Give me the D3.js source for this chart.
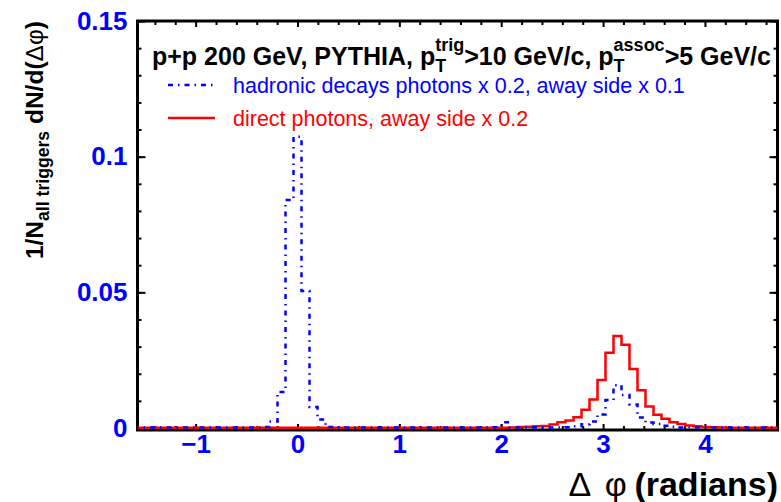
<!DOCTYPE html>
<html>
<head>
<meta charset="utf-8">
<script src="https://cdn.jsdelivr.net/npm/d3@7"></script>
<style>
  html, body { margin: 0; padding: 0; background: #fff; }
  svg { display: block; }
  text { font-family: "Liberation Sans", Arial, Helvetica, sans-serif; }
</style>
</head>
<body>
<svg id="chart" width="781" height="502"></svg>
<script>
// PYTHIA delta-phi correlations, 80 bins over 2pi, first bin centred at -pi/2
const binWidth = 2 * Math.PI / 80;

// hadronic decay photons (x0.2, away side x0.1)
const hadronicDecayPhotons = [
  0.0002, 0.0002, 0.0002, 0.0002, 0.0002, 0.0002, 0.0002, 0.0002, 0.0002, 0.0002,
  0.0002, 0.0002, 0.0002, 0.0002, 0.0002, 0.0002, 0.0004, 0.0024, 0.0133, 0.0840,
  0.1073, 0.0505, 0.0077, 0.0031, 0.0004, 0.0002, 0.0002, 0.0002, 0.0002, 0.0002,
  0.0002, 0.0002, 0.0002, 0.0002, 0.0002, 0.0002, 0.0002, 0.0002, 0.0002, 0.0002,
  0.0002, 0.0002, 0.0002, 0.0002, 0.0002, 0.0003, 0.0021, 0.0002, 0.0002, 0.0002,
  0.0002, 0.0002, 0.0002, 0.0002, 0.0003, 0.0006, 0.0014, 0.0024, 0.0050, 0.0103,
  0.0158, 0.0122, 0.0087, 0.0039, 0.0020, 0.0015, 0.0008, 0.0005, 0.0002, 0.0002,
  0.0002, 0.0002, 0.0002, 0.0002, 0.0002, 0.0002, 0.0002, 0.0002, 0.0002, 0.0002,
  0.0002
];

// direct photons (away side x0.2)
const directPhotons = [
  0.0001, 0.0001, 0.0001, 0.0001, 0.0001, 0.0001, 0.0001, 0.0001, 0.0001, 0.0001,
  0.0001, 0.0001, 0.0001, 0.0001, 0.0001, 0.0001, 0.0001, 0.0001, 0.0001, 0.0001,
  0.0001, 0.0001, 0.0001, 0.0001, 0.0001, 0.0001, 0.0001, 0.0001, 0.0001, 0.0001,
  0.0001, 0.0001, 0.0001, 0.0001, 0.0001, 0.0001, 0.0001, 0.0001, 0.0001, 0.0001,
  0.0001, 0.0001, 0.0001, 0.0001, 0.0001, 0.0001, 0.0001, 0.0002, 0.0004, 0.0005,
  0.0006, 0.0007, 0.0013, 0.0021, 0.0028, 0.0040, 0.0067, 0.0105, 0.0177, 0.0277,
  0.0339, 0.0307, 0.0217, 0.0139, 0.0079, 0.0049, 0.0034, 0.0021, 0.0015, 0.0009,
  0.0006, 0.0004, 0.0003, 0.0002, 0.0001, 0.0001, 0.0001, 0.0001, 0.0001, 0.0001,
  0.0001
];

const xTickValues = [-1, 0, 1, 2, 3, 4];
const yTickValues = [0, 0.05, 0.1, 0.15];
const yTickLabels = ["0", "0.05", "0.1", "0.15"];

const legendLabels = [
  "hadronic decays photons x 0.2, away side x 0.1",
  "direct photons, away side x 0.2"
];

// layout
const frame = { left: 137.5, right: 777.5, top: 21, bottom: 430 };
const BLUE = "#0000ff", RED = "#ff0000";
const SYMBOL_FONT = '"Liberation Serif", "DejaVu Serif", serif';

const svg = d3.select("#chart");

const x = d3.scaleLinear()
  .domain([-Math.PI / 2, 3 * Math.PI / 2])
  .range([frame.left, frame.right]);

const y = d3.scaleLinear()
  .domain([0, 0.15])
  .range([428, frame.top]);

// clip for histograms
svg.append("defs").append("clipPath").attr("id", "plot-clip")
  .append("rect")
  .attr("x", frame.left).attr("y", frame.top)
  .attr("width", frame.right - frame.left)
  .attr("height", frame.bottom - frame.top);

// frame
svg.append("rect")
  .attr("x", frame.left).attr("y", frame.top)
  .attr("width", frame.right - frame.left)
  .attr("height", frame.bottom - frame.top)
  .attr("fill", "none")
  .attr("stroke", "#000")
  .attr("stroke-width", 3);

// ticks (all inward, labels only bottom/left)
function styleAxis(g) {
  g.select(".domain").remove();
  g.selectAll(".tick line").attr("stroke", "#000").attr("stroke-width", 2);
  g.selectAll(".tick text")
    .attr("fill", BLUE)
    .attr("font-weight", "bold")
    .attr("font-size", 26)
    .attr("font-family", '"Liberation Sans", Arial, sans-serif');
}

const xMinor = d3.range(-7, 24).map(d => d * 0.2).filter(d => Math.abs(d - Math.round(d)) > 1e-6);
const yMinor = d3.range(0, 16).map(d => d * 0.01);

svg.append("g")
  .attr("transform", `translate(0,${frame.bottom})`)
  .call(d3.axisBottom(x).tickValues(xTickValues).tickSize(-6).tickPadding(5).tickFormat(d3.format("d")))
  .call(styleAxis);
svg.append("g")
  .attr("transform", `translate(0,${frame.bottom})`)
  .call(d3.axisBottom(x).tickValues(xMinor).tickSize(-4).tickFormat(""))
  .call(styleAxis);
svg.append("g")
  .attr("transform", `translate(0,${frame.top})`)
  .call(d3.axisTop(x).tickValues(xTickValues).tickSize(-6).tickFormat(""))
  .call(styleAxis);
svg.append("g")
  .attr("transform", `translate(0,${frame.top})`)
  .call(d3.axisTop(x).tickValues(xMinor).tickSize(-4).tickFormat(""))
  .call(styleAxis);

svg.append("g")
  .attr("transform", `translate(${frame.left},0)`)
  .call(d3.axisLeft(y).tickValues(yTickValues).tickSize(-8).tickPadding(10)
    .tickFormat((d, i) => yTickLabels[i]))
  .call(styleAxis);
svg.append("g")
  .attr("transform", `translate(${frame.left},0)`)
  .call(d3.axisLeft(y).tickValues(yMinor).tickSize(-4).tickFormat(""))
  .call(styleAxis);
svg.append("g")
  .attr("transform", `translate(${frame.right},0)`)
  .call(d3.axisRight(y).tickValues(yTickValues).tickSize(-8).tickFormat(""))
  .call(styleAxis);
svg.append("g")
  .attr("transform", `translate(${frame.right},0)`)
  .call(d3.axisRight(y).tickValues(yMinor).tickSize(-4).tickFormat(""))
  .call(styleAxis);

// histograms
function histPoints(values) {
  const lo = -Math.PI / 2 - binWidth / 2;
  const pts = values.map((v, i) => [lo + i * binWidth, v]);
  pts.push([lo + values.length * binWidth, values[values.length - 1]]);
  return pts;
}

const stepLine = d3.line()
  .x(d => x(d[0]))
  .y(d => y(d[1]))
  .curve(d3.curveStepAfter);

const plot = svg.append("g").attr("clip-path", "url(#plot-clip)");

plot.append("path")
  .datum(histPoints(directPhotons))
  .attr("d", stepLine)
  .attr("fill", "none")
  .attr("stroke", RED)
  .attr("stroke-width", 2.5);

plot.append("path")
  .datum(histPoints(hadronicDecayPhotons))
  .attr("d", stepLine)
  .attr("fill", "none")
  .attr("stroke", BLUE)
  .attr("stroke-width", 2.5)
  .attr("stroke-dasharray", "5,5,1.5,5");

// rich text: sequence of plain / stacked sub-sup pieces / gaps
function richText(parent, parts, size, weight, fill) {
  const g = parent.append("g");
  let cx = 0;
  parts.forEach(p => {
    if (p.gap !== undefined) {
      cx += p.gap * size;
    } else if (p.text !== undefined) {
      const t = g.append("text")
        .attr("x", cx).attr("y", 0)
        .attr("font-size", size)
        .attr("font-weight", p.weight || weight)
        .attr("fill", fill)
        .attr("font-family", p.family || null)
        .style("white-space", "pre")
        .text(p.text);
      cx += t.node().getComputedTextLength();
    } else {
      const s = size * 0.72;
      let w = 0;
      if (p.sup) {
        const t = g.append("text").attr("x", cx).attr("y", -size * 0.55)
          .attr("font-size", s).attr("font-weight", weight).attr("fill", fill).text(p.sup);
        w = Math.max(w, t.node().getComputedTextLength());
      }
      if (p.sub) {
        const t = g.append("text").attr("x", cx).attr("y", size * 0.26)
          .attr("font-size", s).attr("font-weight", weight).attr("fill", fill)
          .style("white-space", "pre").text(p.sub);
        w = Math.max(w, t.node().getComputedTextLength());
      }
      cx += w;
    }
  });
  return { g, width: cx };
}

// title inside frame
const title = richText(svg, [
  { text: "p+p 200 GeV, PYTHIA, p" },
  { sub: "T", sup: "trig" },
  { text: ">10 GeV/c, p" },
  { sub: "T", sup: "assoc" },
  { text: ">5 GeV/c" }
], 25, "bold", "#000");
title.g.attr("transform", "translate(152,65)");

// legend
const legend = svg.append("g");
const legendRows = [
  { label: legendLabels[0], color: BLUE, dash: "5,5,1.5,5", y: 85 },
  { label: legendLabels[1], color: RED, dash: null, y: 118 }
];
legendRows.forEach(r => {
  legend.append("line")
    .attr("x1", 168).attr("x2", 215)
    .attr("y1", r.y).attr("y2", r.y)
    .attr("stroke", r.color)
    .attr("stroke-width", 2.5)
    .attr("stroke-dasharray", r.dash);
  legend.append("text")
    .attr("x", 233).attr("y", r.y)
    .attr("dy", "0.36em")
    .attr("font-size", 21.5)
    .attr("fill", r.color)
    .text(r.label);
});

// y axis title (rotated, right-aligned to the top of the frame)
const yTitle = richText(svg, [
  { text: "1/N" },
  { sub: "all triggers" },
  { text: " dN/d(" },
  { text: "\u0394\u03c6", weight: "normal", family: SYMBOL_FONT },
  { text: ")" }
], 24.5, "bold", "#000");
yTitle.g.attr("transform", `translate(43,${frame.top + yTitle.width}) rotate(-90)`);

// x axis title (right-aligned)
const xTitle = richText(svg, [
  { text: "\u0394", weight: "normal", family: SYMBOL_FONT },
  { gap: 0.4 },
  { text: "\u03c6", weight: "normal", family: SYMBOL_FONT },
  { gap: 0.22 },
  { text: "(radians)" }
], 34, "bold", "#000");
xTitle.g.attr("transform", `translate(${778 - xTitle.width},496)`);
</script>
</body>
</html>
